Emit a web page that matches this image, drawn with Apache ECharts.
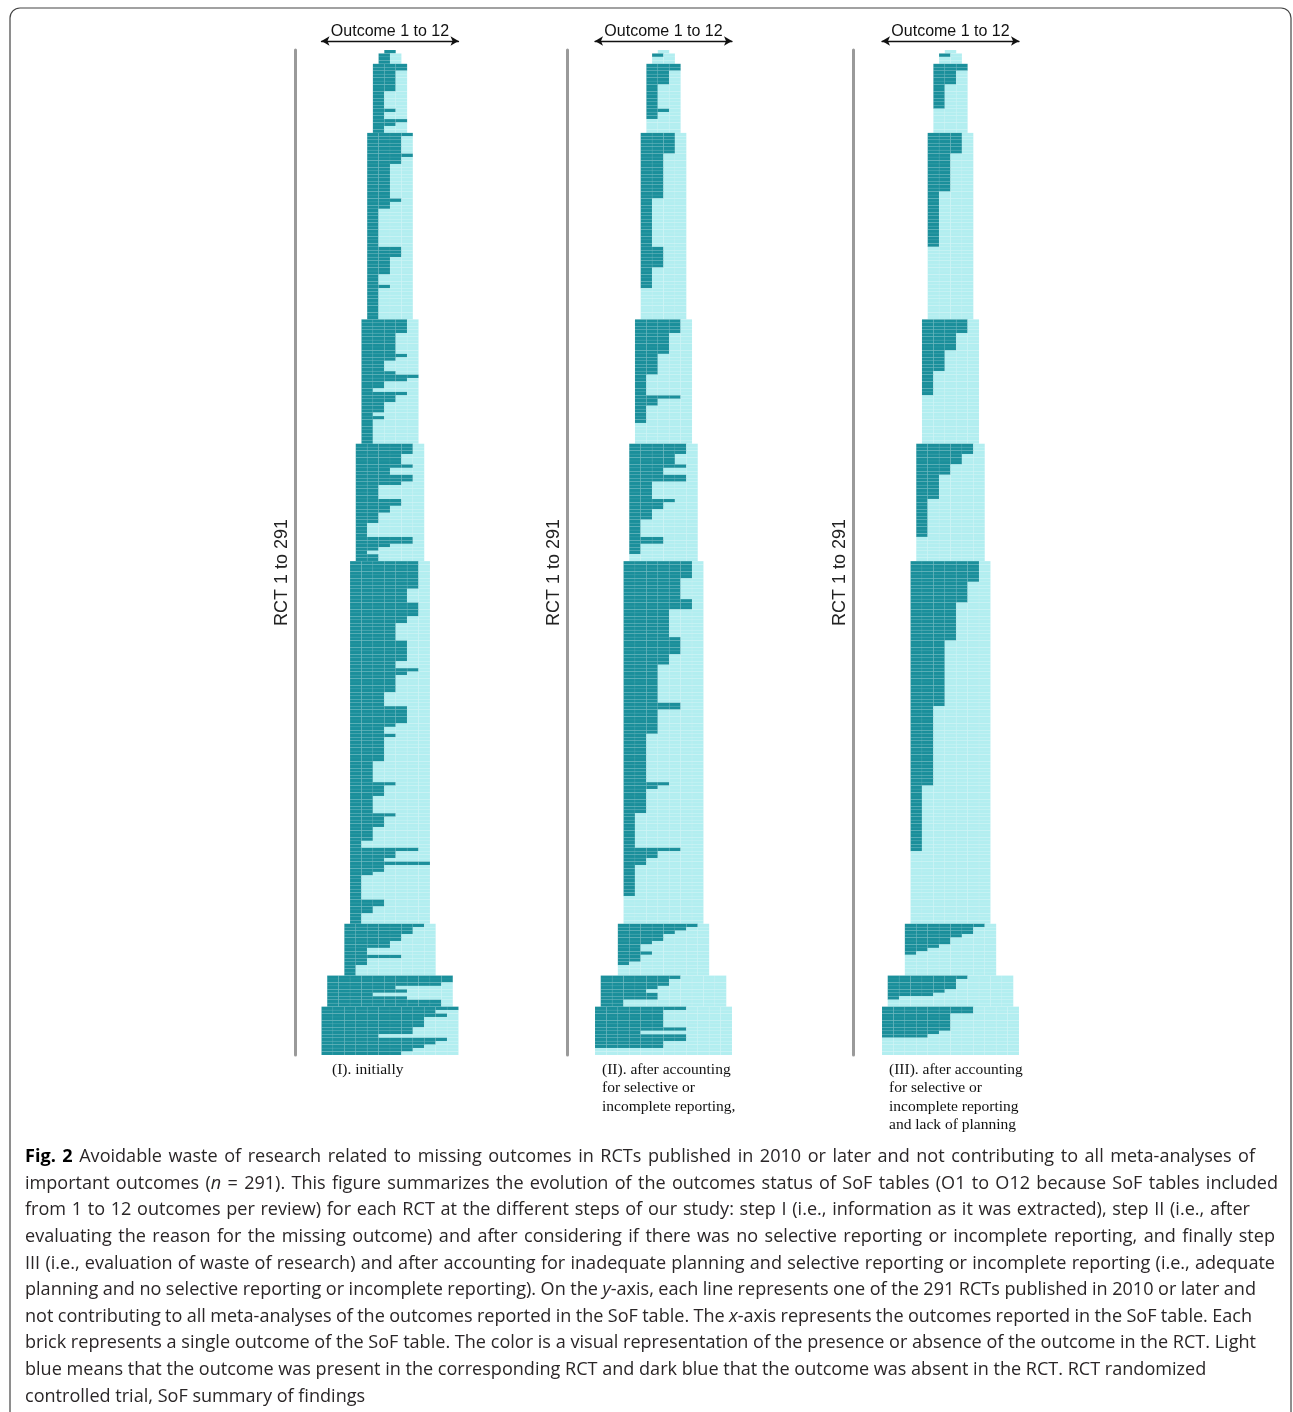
<!DOCTYPE html>
<html>
<head>
<meta charset="utf-8">
<script src="https://cdn.jsdelivr.net/npm/echarts@6/dist/echarts.min.js"></script>
<style>
  html, body { margin: 0; padding: 0; background: #fff; }
  #fig { width: 1293px; height: 1412px; }
</style>
</head>
<body>
<div id="fig"></div>
<script>
// outcomes per SoF table, with how many RCTs share that table width (top to bottom)
const tierOutcomes = [1, 2, 3, 4, 5, 6, 7, 8, 11, 12];
const tierRows = [1, 3, 20, 54, 36, 34, 105, 15, 9, 14];

// missing (dark) outcomes per RCT, run-length [missing, rows], top to bottom
const missingI = [
  [1, 1],
  [1, 3],
  [3, 2], [2, 6], [1, 5], [2, 1], [1, 2], [3, 1], [2, 1], [1, 2],
  [4, 1], [3, 5], [4, 1], [3, 2], [2, 10], [3, 1], [2, 2], [1, 11], [3, 3], [2, 5], [1, 3], [2, 1], [1, 9],
  [4, 4], [3, 6], [4, 1], [3, 1], [2, 3], [3, 1], [5, 1], [4, 1], [2, 2], [1, 1], [4, 1], [3, 2], [2, 3], [1, 1], [2, 1], [1, 7],
  [5, 3], [4, 3], [5, 1], [3, 2], [5, 2], [4, 1], [2, 4], [4, 2], [3, 2], [2, 3], [1, 4], [5, 2], [3, 1], [2, 1], [1, 1], [2, 2],
  [6, 8], [5, 4], [6, 4], [5, 2], [4, 5], [5, 6], [4, 2], [6, 1], [5, 1], [4, 5], [3, 4], [5, 5], [4, 1], [3, 2], [4, 1], [3, 7],
  [2, 6], [4, 1], [3, 3], [2, 5], [4, 1], [3, 3], [2, 4], [1, 2], [6, 1], [4, 2], [3, 1], [7, 1], [3, 2], [2, 1], [1, 7], [3, 2], [2, 2], [1, 3],
  [7, 1], [6, 2], [5, 2], [4, 2], [2, 2], [5, 1], [2, 2], [1, 3],
  [11, 2], [10, 1], [6, 1], [7, 1], [4, 1], [7, 1], [10, 2],
  [12, 1], [10, 1], [11, 1], [9, 3], [8, 2], [5, 1], [11, 1], [10, 1], [9, 1], [8, 1], [7, 1]
];
const missingII = [
  [0, 1],
  [1, 1], [0, 2],
  [3, 2], [2, 4], [1, 7], [2, 1], [1, 2], [0, 4],
  [3, 6], [2, 13], [1, 14], [2, 6], [1, 6], [0, 9],
  [4, 4], [3, 6], [2, 6], [1, 6], [4, 1], [2, 2], [1, 5], [0, 6],
  [5, 3], [4, 3], [5, 1], [3, 2], [5, 2], [2, 5], [4, 1], [3, 2], [2, 3], [1, 5], [3, 2], [1, 3], [0, 2],
  [6, 5], [5, 6], [6, 3], [4, 8], [5, 5], [4, 3], [3, 11], [5, 2], [3, 7], [2, 14], [4, 1], [3, 1], [2, 7], [1, 10], [5, 1], [3, 2], [2, 2], [1, 9], [0, 8],
  [7, 1], [6, 1], [5, 1], [4, 2], [3, 1], [2, 2], [3, 1], [2, 2], [1, 1], [0, 3],
  [7, 1], [6, 2], [5, 1], [4, 1], [5, 2], [2, 2],
  [8, 1], [6, 5], [8, 1], [4, 1], [8, 2], [6, 2], [0, 2]
];
const missingIII = [
  [0, 1],
  [1, 1], [0, 2],
  [3, 2], [2, 4], [1, 7], [0, 7],
  [3, 6], [2, 11], [1, 16], [0, 21],
  [4, 4], [3, 5], [2, 6], [1, 7], [0, 14],
  [5, 3], [4, 3], [3, 3], [2, 7], [1, 11], [0, 7],
  [6, 6], [5, 6], [4, 11], [3, 19], [2, 23], [1, 19], [0, 21],
  [7, 1], [6, 2], [5, 1], [4, 2], [3, 1], [2, 1], [1, 1], [0, 6],
  [7, 1], [6, 3], [5, 1], [4, 1], [1, 1], [0, 2],
  [8, 2], [6, 5], [5, 1], [4, 1], [0, 5]
];

const panelCaptions = [
  ['(I). initially'],
  ['(II). after accounting', 'for selective or', 'incomplete reporting,'],
  ['(III). after accounting', 'for selective or', 'incomplete reporting', 'and lack of planning']
];

const captionLines = [
  '**Fig.** **2** Avoidable waste of research related to missing outcomes in RCTs published in 2010 or later and not contributing to all meta-analyses of',
  'important outcomes (*n* = 291). This figure summarizes the evolution of the outcomes status of SoF tables (O1 to O12 because SoF tables included',
  'from 1 to 12 outcomes per review) for each RCT at the different steps of our study: step I (i.e., information as it was extracted), step II (i.e., after',
  'evaluating the reason for the missing outcome) and after considering if there was no selective reporting or incomplete reporting, and finally step',
  'III (i.e., evaluation of waste of research) and after accounting for inadequate planning and selective reporting or incomplete reporting (i.e., adequate',
  'planning and no selective reporting or incomplete reporting). On the *y*-axis, each line represents one of the 291 RCTs published in 2010 or later and',
  'not contributing to all meta-analyses of the outcomes reported in the SoF table. The *x*-axis represents the outcomes reported in the SoF table. Each',
  'brick represents a single outcome of the SoF table. The color is a visual representation of the presence or absence of the outcome in the RCT. Light',
  'blue means that the outcome was present in the corresponding RCT and dark blue that the outcome was absent in the RCT. RCT randomized',
  'controlled trial, SoF summary of findings'
];
// right edge of each caption line (0 = ragged last lines)
const captionRight = [1255, 1278, 1250, 1275, 1275, 1256, 1252, 1256, 0, 0];

const DARK = '#1a8f9b';
const LIGHT = '#b2eef0';
const TEXT = '#2a2627';
const CAP_FONT = '"Open Sans"';

function expand(runs) {
  const out = [];
  runs.forEach(([v, n]) => { for (let i = 0; i < n; i++) out.push(v); });
  return out;
}

const totals = expand(tierOutcomes.map((o, i) => [o, tierRows[i]]));
const panelsMissing = [missingI, missingII, missingIII].map(expand);
panelsMissing.forEach((m, i) => { if (m.length !== totals.length) console.warn('panel', i, m.length); });

const gridLeft = [321.5, 595, 882];
const axisX = [295.5, 567, 853];
const capX = [332, 602, 889];
const GRID_TOP = 50, GRID_H = 1005, GRID_W = 137;

const renderBricks = (params, api) => {
  const row = api.value(0), total = api.value(1), dark = api.value(2);
  const children = [];
  for (let k = 0; k < total; k++) {
    const p0 = api.coord([-total / 2 + k, row]);
    const p1 = api.coord([-total / 2 + k + 1, row + 1]);
    children.push({
      type: 'rect',
      shape: { x: p0[0], y: p0[1], width: p1[0] - p0[0], height: p1[1] - p0[1] },
      style: {
        fill: k < dark ? DARK : LIGHT,
        stroke: k < dark ? 'rgba(255,255,255,0.09)' : 'rgba(255,255,255,0.12)',
        lineWidth: 0.5
      }
    });
  }
  return { type: 'group', children };
};

const grids = [], xAxes = [], yAxes = [], series = [];
panelsMissing.forEach((missing, p) => {
  grids.push({ left: gridLeft[p], top: GRID_TOP, width: GRID_W, height: GRID_H });
  xAxes.push({
    type: 'value', gridIndex: p, min: -6, max: 6, position: 'top', offset: 9,
    name: 'Outcome 1 to 12', nameLocation: 'middle', nameGap: 1,
    nameTextStyle: { fontFamily: '"Liberation Sans"', fontSize: 16, color: '#111', verticalAlign: 'bottom' },
    axisLine: { show: true, onZero: false, symbol: ['arrow', 'arrow'], symbolSize: [7, 8], lineStyle: { color: '#111', width: 1.3 } },
    axisTick: { show: false }, axisLabel: { show: false }, splitLine: { show: false }
  });
  yAxes.push({
    type: 'value', gridIndex: p, min: 0, max: totals.length, inverse: true,
    position: 'left', offset: gridLeft[p] - axisX[p],
    name: 'RCT 1 to 291', nameLocation: 'middle', nameGap: 4,
    nameTextStyle: { fontFamily: '"Liberation Sans"', fontSize: 18, color: '#222', padding: [0, 40, 0, 0] },
    axisLine: { show: true, onZero: false, lineStyle: { color: '#9a9a9a', width: 3 } },
    axisTick: { show: false }, axisLabel: { show: false }, splitLine: { show: false }
  });
  series.push({
    type: 'custom', xAxisIndex: p, yAxisIndex: p, renderItem: renderBricks,
    data: totals.map((t, r) => [r, t, missing[r]]),
    silent: true
  });
});

// caption text: justified words placed from measured widths
const ctx = document.createElement('canvas').getContext('2d');
function measure(word, fs) {
  let w = 0;
  word.split(/(\*\*.+?\*\*|\*.+?\*)/).forEach(seg => {
    if (!seg) return;
    if (seg.startsWith('**')) { ctx.font = `bold ${fs}px ${CAP_FONT}`; w += ctx.measureText(seg.slice(2, -2)).width; }
    else if (seg.startsWith('*')) { ctx.font = `italic ${fs}px ${CAP_FONT}`; w += ctx.measureText(seg.slice(1, -1)).width; }
    else { ctx.font = `${fs}px ${CAP_FONT}`; w += ctx.measureText(seg).width; }
  });
  return w;
}
function lineWidth(line, fs) {
  ctx.font = `${fs}px ${CAP_FONT}`;
  const sp = ctx.measureText(' ').width;
  const words = line.split(' ');
  return words.reduce((s, w) => s + measure(w, fs), 0) + sp * (words.length - 1);
}
const capFs = 18 * 1182 / lineWidth(captionLines[8], 18);
const rich = {
  b: { fontWeight: 'bold', fontSize: capFs, fontFamily: CAP_FONT, fill: '#000' },
  i: { fontStyle: 'italic', fontSize: capFs, fontFamily: CAP_FONT, fill: TEXT }
};

const graphics = [
  { type: 'rect', shape: { x: 10, y: 8, width: 1281, height: 1440, r: 10 }, style: { fill: 'none', stroke: '#444', lineWidth: 1.2 } }
];
captionLines.forEach((line, li) => {
  const y = 1157 + li * 26.6;
  const words = line.split(' ');
  const widths = words.map(w => measure(w, capFs));
  ctx.font = `${capFs}px ${CAP_FONT}`;
  let gap = ctx.measureText(' ').width;
  if (captionRight[li]) gap = (captionRight[li] - 25 - widths.reduce((a, b) => a + b, 0)) / (words.length - 1);
  let x = 25;
  words.forEach((w, wi) => {
    graphics.push({
      type: 'text', x, y, silent: true,
      style: {
        text: w.replace(/\*\*(.+?)\*\*/g, '{b|$1}').replace(/\*(.+?)\*/g, '{i|$1}'),
        rich, fontSize: capFs, fontFamily: CAP_FONT, fill: TEXT, verticalAlign: 'middle'
      }
    });
    x += widths[wi] + gap;
  });
});
panelCaptions.forEach((lines, p) => {
  lines.forEach((t, li) => {
    graphics.push({
      type: 'text', x: capX[p], y: 1070 + li * 18.3, silent: true,
      style: { text: t, fontSize: 15.5, fontFamily: '"Liberation Serif"', fill: '#111', verticalAlign: 'middle' }
    });
  });
});

const chart = echarts.init(document.getElementById('fig'), null, { renderer: 'canvas' });
chart.setOption({
  animation: false,
  backgroundColor: '#fff',
  grid: grids,
  xAxis: xAxes,
  yAxis: yAxes,
  series,
  graphic: graphics
});
</script>
</body>
</html>
